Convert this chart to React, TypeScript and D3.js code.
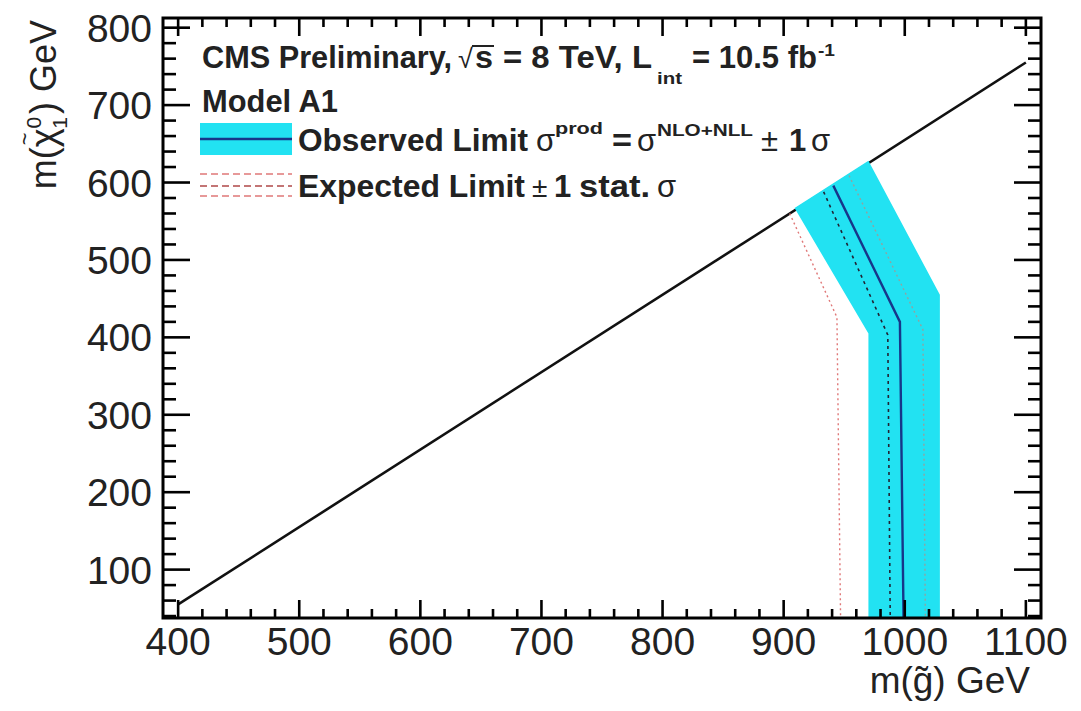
import React from "react";
import * as d3 from "d3";

// ---- data (GeV) ----
const xTicks = [400, 500, 600, 700, 800, 900, 1000, 1100];
const yTicks = [100, 200, 300, 400, 500, 600, 700, 800];
// kinematic diagonal m(chi) = m(g) - ~345
const diagX = [400, 1100];
const diagY = [55, 755];
// observed limit
const obsX = [941, 996, 999];
const obsY = [596, 420, 37.5];
// observed +-1 sigma theory band
const bandLowX = [909, 970, 970];
const bandLowY = [567, 405, 37.5];
const bandHighX = [970, 1029, 1029];
const bandHighY = [628, 455, 37.5];
// expected limit and +-1 sigma
const expX = [933, 986, 988];
const expY = [588, 403, 37.5];
const expLowX = [905, 944, 947];
const expLowY = [560, 426, 37.5];
const expHighX = [954, 1015, 1017];
const expHighY = [609, 410, 37.5];

const W = 1081;
const H = 711;
const L = 163, R = 1041, T = 18, B = 618;
const FONT = "'Liberation Sans', Arial, Helvetica, sans-serif";
const INK = "#222";
const BAND = "#22e2f2";
const OBS = "#17378a";

function Seg(p: { x: number; y: number; w?: number; s?: number; b?: boolean; children: React.ReactNode }) {
  const extra: any = p.w ? { textLength: p.w, lengthAdjust: "spacingAndGlyphs" } : {};
  return (
    <text x={p.x} y={p.y} fontSize={p.s ?? 31} fontWeight={p.b === false ? "normal" : "bold"} fill={INK} {...extra}>
      {p.children}
    </text>
  );
}

export default function App() {
  const x = d3.scaleLinear().domain([387.5, 1112.5]).range([L, R]);
  const y = d3.scaleLinear().domain([37.5, 812.5]).range([B, T]);
  const line = d3.line<[number, number]>().x((d) => x(d[0])).y((d) => y(d[1]));
  const pts = (xs: number[], ys: number[]) => xs.map((v, i) => [v, ys[i]] as [number, number]);

  const bandPts = [...pts(bandLowX, bandLowY), ...pts(bandHighX, bandHighY).reverse()];
  const bandPath = line(bandPts) + "Z";

  const xMinor = d3.range(400, 1112.5, 20).filter((v) => v % 100 !== 0);
  const yMinor = d3.range(40, 812.5, 20).filter((v) => v % 100 !== 0);
  const xMaj = 18, xMin = 9, yMaj = 27, yMin = 13;
  const tw = 2.6;

  return (
    <svg width={W} height={H} style={{ position: "absolute", left: 0, top: 0, background: "#fff" }} fontFamily={FONT}>
      <rect x={0} y={0} width={W} height={H} fill="#fff" />
      {/* diagonal */}
      <path d={line(pts(diagX, diagY)) || ""} stroke="#111" strokeWidth={2.6} fill="none" />
      {/* band */}
      <path d={bandPath} fill={BAND} stroke="none" />
      {/* expected lines */}
      <path d={line(pts(expLowX, expLowY)) || ""} stroke="#e07878" strokeWidth={1.4} strokeDasharray="2,3" fill="none" />
      <path d={line(pts(expHighX, expHighY)) || ""} stroke="#d87a6a" strokeOpacity={0.6} strokeWidth={1.4} strokeDasharray="2,3" fill="none" />
      <path d={line(pts(expX, expY)) || ""} stroke="#223" strokeWidth={1.6} strokeDasharray="3,4" fill="none" />
      {/* observed */}
      <path d={line(pts(obsX, obsY)) || ""} stroke={OBS} strokeWidth={2.4} fill="none" />

      {/* frame */}
      <rect x={L} y={T} width={R - L} height={B - T} fill="none" stroke="#000" strokeWidth={3} />
      {xTicks.map((v) => (
        <g key={"xt" + v}>
          <line x1={x(v)} x2={x(v)} y1={B} y2={B - xMaj} stroke="#000" strokeWidth={tw} />
          <line x1={x(v)} x2={x(v)} y1={T} y2={T + xMaj} stroke="#000" strokeWidth={tw} />
          <text x={x(v)} y={655} textAnchor="middle" fontSize={39} fill={INK}>{v}</text>
        </g>
      ))}
      {xMinor.map((v) => (
        <g key={"xm" + v}>
          <line x1={x(v)} x2={x(v)} y1={B} y2={B - xMin} stroke="#000" strokeWidth={tw} />
          <line x1={x(v)} x2={x(v)} y1={T} y2={T + xMin} stroke="#000" strokeWidth={tw} />
        </g>
      ))}
      {yTicks.map((v) => (
        <g key={"yt" + v}>
          <line x1={L} x2={L + yMaj} y1={y(v)} y2={y(v)} stroke="#000" strokeWidth={tw} />
          <line x1={R} x2={R - yMaj} y1={y(v)} y2={y(v)} stroke="#000" strokeWidth={tw} />
          <text x={152} y={y(v) + 14} textAnchor="end" fontSize={39} fill={INK}>{v}</text>
        </g>
      ))}
      {yMinor.map((v) => (
        <g key={"ym" + v}>
          <line x1={L} x2={L + yMin} y1={y(v)} y2={y(v)} stroke="#000" strokeWidth={tw} />
          <line x1={R} x2={R - yMin} y1={y(v)} y2={y(v)} stroke="#000" strokeWidth={tw} />
        </g>
      ))}

      {/* axis titles */}
      <text x={1030} y={693} textAnchor="end" fontSize={37} fill={INK}>{"m(g\u0303) GeV"}</text>
      <text transform="translate(56,20) rotate(-90)" textAnchor="end" fontSize={36} fill={INK}>
        <tspan>{"m(\u03c7"}</tspan>
        <tspan fontSize={22} dx={-17} dy={-24}>~</tspan>
        <tspan fontSize={21} dx={4} dy={9}>0</tspan>
        <tspan fontSize={21} dx={-12} dy={26}>1</tspan>
        <tspan dx={3} dy={-11}>{") GeV"}</tspan>
      </text>

      {/* legend line 1 */}
      <Seg x={202} y={68} w={250}>CMS Preliminary,</Seg>
      <Seg x={458} y={68} b={false} s={27}>{"\u221a"}</Seg>
      <line x1={472} x2={494} y1={46} y2={46} stroke={INK} strokeWidth={2} />
      <Seg x={475} y={68} w={18}>s</Seg>
      <Seg x={503} y={68} w={149}>= 8 TeV, L</Seg>
      <Seg x={657} y={84} s={16} w={25}>int</Seg>
      <Seg x={692} y={68} w={125}>= 10.5 fb</Seg>
      <Seg x={818} y={56} s={16} w={17}>-1</Seg>

      {/* legend line 2 */}
      <Seg x={202} y={112} w={136}>Model A1</Seg>

      {/* legend line 3 */}
      <rect x={200} y={123} width={92} height={32} fill={BAND} />
      <line x1={200} x2={292} y1={139} y2={139} stroke={OBS} strokeWidth={2.4} />
      <Seg x={298} y={151} w={230}>Observed Limit</Seg>
      <Seg x={536} y={151} b={false}>{"\u03c3"}</Seg>
      <Seg x={555} y={134} s={16} w={48}>prod</Seg>
      <Seg x={612} y={151} w={20}>=</Seg>
      <Seg x={637} y={151} b={false}>{"\u03c3"}</Seg>
      <Seg x={657} y={136} s={16} w={96}>NLO+NLL</Seg>
      <Seg x={761} y={151} b={false}>{"\u00b1"}</Seg>
      <Seg x={789} y={151}>1</Seg>
      <Seg x={811} y={151} b={false}>{"\u03c3"}</Seg>

      {/* legend line 4 */}
      <line x1={200} x2={292} y1={174} y2={174} stroke="#e07878" strokeWidth={1.6} strokeDasharray="7,4" />
      <line x1={200} x2={292} y1={186} y2={186} stroke="#b04848" strokeWidth={1.6} strokeDasharray="7,4" />
      <line x1={200} x2={292} y1={196} y2={196} stroke="#e07878" strokeWidth={1.6} strokeDasharray="7,4" />
      <Seg x={298} y={197} w={227}>Expected Limit</Seg>
      <Seg x={532} y={197} b={false} s={28}>{"\u00b1"}</Seg>
      <Seg x={554} y={197}>1</Seg>
      <Seg x={579} y={197} w={71}>stat.</Seg>
      <Seg x={657} y={197} b={false}>{"\u03c3"}</Seg>
    </svg>
  );
}
